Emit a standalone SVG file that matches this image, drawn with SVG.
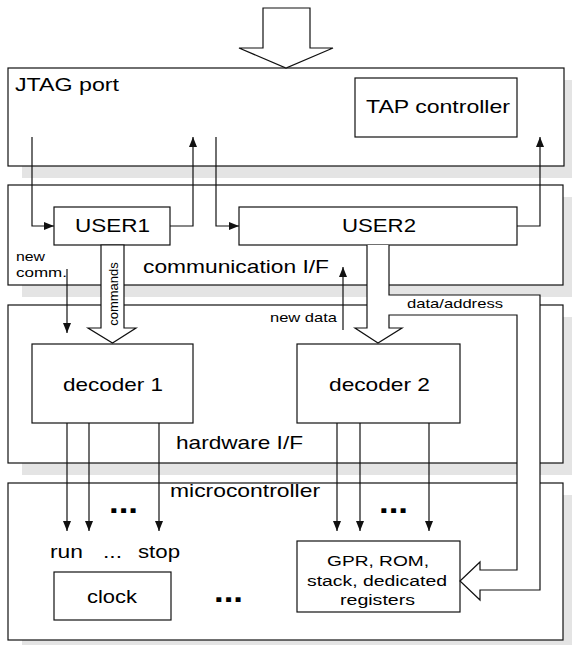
<svg xmlns="http://www.w3.org/2000/svg" width="572" height="645" viewBox="0 0 572 645">
  <style>
    .shadow { fill: #e4e4e4; stroke: none; }
    .box { fill: #ffffff; stroke: #111; stroke-width: 1.2; }
    .wide { fill: #ffffff; stroke: #111; stroke-width: 1.2; stroke-linejoin: miter; }
    .wire { fill: none; stroke: #111; stroke-width: 1.2; }
    text { font-family: "Liberation Sans", Arial, sans-serif; fill: #000; }
    .lbl { font-size: 18.5px; }
    .sm { font-size: 13px; }
    .mid { font-size: 15.5px; }
    .dots { font-size: 32px; font-weight: bold; }
  </style>
  <defs>
    <marker id="ah" viewBox="0 0 10 8" refX="10" refY="4" markerWidth="10" markerHeight="8" markerUnits="userSpaceOnUse" orient="auto">
      <path d="M0,0 L10,4 L0,8 z" fill="#111"/>
    </marker>
  </defs>

  <!-- drop shadows -->
  <g id="shadows">
    <rect class="shadow" x="22" y="80" width="556" height="98"/>
    <rect class="shadow" x="22" y="197" width="555" height="100"/>
    <rect class="shadow" x="22" y="317" width="555" height="158"/>
    <rect class="shadow" x="22" y="495" width="555" height="157"/>
    <rect class="shadow" x="369" y="90" width="162" height="59"/>
    <rect class="shadow" x="68" y="219" width="116" height="38"/>
    <rect class="shadow" x="253" y="219" width="278" height="38"/>
    <rect class="shadow" x="46" y="356" width="161" height="79"/>
    <rect class="shadow" x="311" y="356" width="163" height="79"/>
    <rect class="shadow" x="68" y="584" width="117" height="48"/>
    <rect class="shadow" x="311" y="553" width="163" height="71"/>
  </g>

  <!-- layer frames -->
  <g id="jtag-port">
    <rect class="box" x="8" y="68" width="556" height="98"/>
    <text class="lbl" x="15" y="91" textLength="104" lengthAdjust="spacingAndGlyphs">JTAG port</text>
  </g>
  <g id="communication-if">
    <rect class="box" x="8" y="185" width="555" height="100"/>
    <text class="lbl" x="143" y="273" textLength="186" lengthAdjust="spacingAndGlyphs">communication I/F</text>
  </g>
  <g id="hardware-if">
    <rect class="box" x="8" y="305" width="555" height="158"/>
    <text class="lbl" x="176" y="449" textLength="127" lengthAdjust="spacingAndGlyphs">hardware I/F</text>
  </g>
  <g id="microcontroller">
    <rect class="box" x="8" y="483" width="555" height="157"/>
    <text class="lbl" x="170" y="497" textLength="150" lengthAdjust="spacingAndGlyphs">microcontroller</text>
  </g>

  <!-- inner blocks -->
  <g id="tap-controller">
    <rect class="box" x="355" y="78" width="162" height="59"/>
    <text class="lbl" x="366" y="113" textLength="144" lengthAdjust="spacingAndGlyphs">TAP controller</text>
  </g>
  <g id="user1">
    <rect class="box" x="54" y="207" width="116" height="38"/>
    <text class="lbl" x="75" y="232" textLength="75" lengthAdjust="spacingAndGlyphs">USER1</text>
  </g>
  <g id="user2">
    <rect class="box" x="239" y="207" width="278" height="38"/>
    <text class="lbl" x="342" y="232" textLength="74" lengthAdjust="spacingAndGlyphs">USER2</text>
  </g>
  <g id="decoder1">
    <rect class="box" x="32" y="344" width="161" height="79"/>
    <text class="lbl" x="63" y="391" textLength="100" lengthAdjust="spacingAndGlyphs">decoder 1</text>
  </g>
  <g id="decoder2">
    <rect class="box" x="297" y="344" width="163" height="79"/>
    <text class="lbl" x="329" y="391" textLength="101" lengthAdjust="spacingAndGlyphs">decoder 2</text>
  </g>
  <g id="clock">
    <rect class="box" x="54" y="572" width="117" height="48"/>
    <text class="lbl" x="87" y="603" textLength="50" lengthAdjust="spacingAndGlyphs">clock</text>
  </g>
  <g id="registers">
    <rect class="box" x="297" y="541" width="163" height="71"/>
    <text class="mid" x="327" y="566" textLength="102" lengthAdjust="spacingAndGlyphs">GPR, ROM,</text>
    <text class="mid" x="307" y="586" textLength="140" lengthAdjust="spacingAndGlyphs">stack, dedicated</text>
    <text class="mid" x="340" y="605" textLength="75" lengthAdjust="spacingAndGlyphs">registers</text>
  </g>

  <!-- connectors -->
  <g id="connectors">
    <!-- wide bus arrows -->
    <polygon class="wide" points="263,8 310,8 310,48 333,48 286,68 239,48 263,48"/>
    <polygon class="wide" points="101,245 124,245 124,328 136,328 112.5,343 88,328 101,328"/>
    <path class="wide" d="M367,245 V328 H355 L378,343 L402,328 H389 V315 H517 V570 H480 V562 L460,581 L480,600 V590 H540 V295 H389 V245"/>
    <text class="sm" x="407" y="308" textLength="96" lengthAdjust="spacingAndGlyphs">data/address</text>
    <text class="sm" transform="translate(118,294) rotate(-90)" text-anchor="middle">commands</text>

    <!-- JTAG data in/out -->
    <path class="wire" d="M32,137 V226 H54" marker-end="url(#ah)"/>
    <path class="wire" d="M170,226 H193 V137" marker-end="url(#ah)"/>
    <path class="wire" d="M216,137 V226 H239" marker-end="url(#ah)"/>
    <path class="wire" d="M517,226 H540 V137" marker-end="url(#ah)"/>

    <!-- handshake lines -->
    <path class="wire" d="M67,269 V333" marker-end="url(#ah)"/>
    <text class="sm" x="16" y="261" textLength="29" lengthAdjust="spacingAndGlyphs">new</text>
    <text class="sm" x="16" y="277" textLength="51" lengthAdjust="spacingAndGlyphs">comm.</text>
    <path class="wire" d="M343,330 V267" marker-end="url(#ah)"/>
    <text class="sm" x="270" y="322" textLength="67" lengthAdjust="spacingAndGlyphs">new data</text>

    <!-- decoder outputs -->
    <path class="wire" d="M67,423 V531" marker-end="url(#ah)"/>
    <path class="wire" d="M89,423 V531" marker-end="url(#ah)"/>
    <path class="wire" d="M159,423 V531" marker-end="url(#ah)"/>
    <path class="wire" d="M337,423 V531" marker-end="url(#ah)"/>
    <path class="wire" d="M360,423 V531" marker-end="url(#ah)"/>
    <path class="wire" d="M429,423 V531" marker-end="url(#ah)"/>
    <text class="dots" x="109" y="513" textLength="29" lengthAdjust="spacingAndGlyphs">...</text>
    <text class="dots" x="379" y="513" textLength="29" lengthAdjust="spacingAndGlyphs">...</text>

    <text class="lbl" x="50" y="558" textLength="33" lengthAdjust="spacingAndGlyphs">run</text>
    <text class="lbl" x="103" y="558" textLength="19" lengthAdjust="spacingAndGlyphs">...</text>
    <text class="lbl" x="138" y="558" textLength="42" lengthAdjust="spacingAndGlyphs">stop</text>
    <text class="dots" x="214" y="602" textLength="29" lengthAdjust="spacingAndGlyphs">...</text>
  </g>
</svg>
